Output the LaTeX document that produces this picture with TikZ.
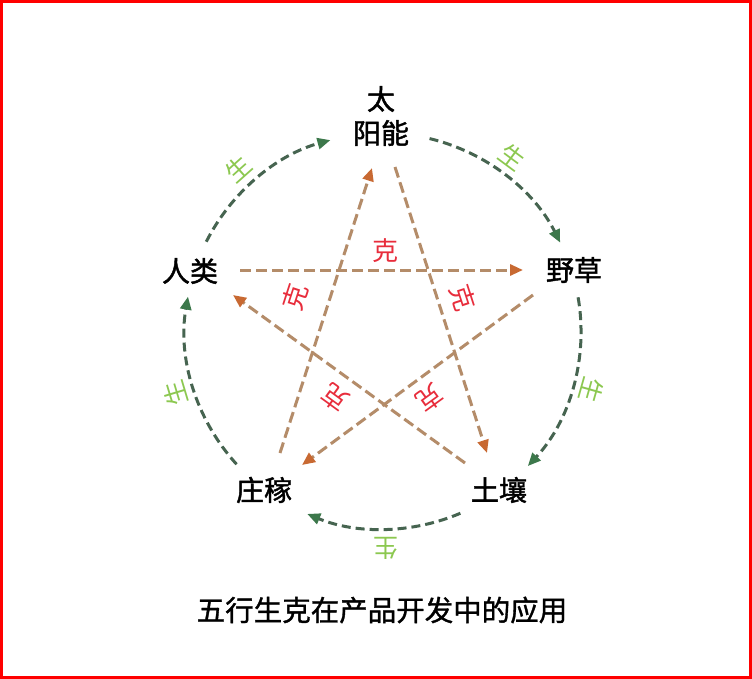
\documentclass[tikz,border=0pt]{standalone}
\usepackage{fontspec}
\newfontfamily\cjk{Noto Sans CJK SC}
\newfontfamily\cjkb[FakeBold=1.6]{Noto Sans CJK SC}
\newfontfamily\cjkt[FakeBold=1.2]{Noto Sans CJK SC}
\usetikzlibrary{arrows.meta}
\definecolor{kered}{RGB}{232,45,60}
\definecolor{shenggreen}{RGB}{140,200,80}
\definecolor{arcgreen}{RGB}{70,100,80}
\definecolor{arctip}{RGB}{60,120,75}
\definecolor{starline}{RGB}{180,140,105}
\definecolor{startip}{RGB}{200,105,50}
\tikzset{
  lbl/.style={font=\cjkb\fontsize{28}{34}\selectfont, text=black, inner sep=0pt, align=center},
  kelbl/.style={font=\cjk\fontsize{26}{26}\selectfont, text=kered, inner sep=0pt},
  shenglbl/.style={font=\cjk\fontsize{25}{25}\selectfont, text=shenggreen, inner sep=0pt},
  keline/.style={draw=starline, line width=3pt, dash pattern=on 11pt off 5pt,
    -{Triangle[length=13pt,width=11pt,fill=startip,color=startip]}},
  shengarc/.style={draw=arcgreen, line width=3pt, dash pattern=on 9pt off 5pt,
    -{Triangle[length=13pt,width=11pt,fill=arctip,color=arctip]}},
}
\begin{document}
\begin{tikzpicture}[x=1pt,y=1pt]
\useasboundingbox (0,0) rectangle (752,-679);
\fill[white] (0,0) rectangle (752,-679);
\draw[red, line width=3pt] (1.5,-1.5) rectangle (750.5,-677.5);

\coordinate (O) at (383,-331);

% main nodes
\node[lbl] (sun) at (381,-116) {太\\阳能};
\node[lbl] (hum) at (190,-271) {人类};
\node[lbl] (grass) at (574,-270) {野草};
\node[lbl] (crop) at (264,-490) {庄稼};
\node[lbl] (soil) at (499,-490) {土壤};

% 克 lines (star)
\draw[keline] ([shift={(50,1)}]hum.center) -- ([shift={(-51,0)}]grass.center);
\draw[keline] ([shift={(16,37)}]crop.center) -- ([shift={(-9,-52)}]sun.center);
\draw[keline] ([shift={(14,-51)}]sun.center) -- ([shift={(-12,37)}]soil.center);
\draw[keline] ([shift={(-41,-25)}]grass.center) -- ([shift={(38,25)}]crop.center);
\draw[keline] ([shift={(-34,27)}]soil.center) -- ([shift={(43,-24)}]hum.center);

% 生 arcs (circle)
\draw[shengarc] ([shift={(153.2:198)}]O) arc[start angle=153.2, end angle=105.4, radius=198];
\draw[shengarc] ([shift={(76.4:198)}]O) arc[start angle=76.4, end angle=26.5, radius=198];
\draw[shengarc] ([shift={(9.8:198)}]O) arc[start angle=9.8, end angle=-43, radius=198];
\draw[shengarc] ([shift={(-67:198)}]O) arc[start angle=-67, end angle=-112.5, radius=198];
\draw[shengarc] ([shift={(222.3:198)}]O) arc[start angle=222.3, end angle=170, radius=198];

% 生 labels
\node[shenglbl, rotate=41.8] (s1) at ([shift={(131.8:217)}]O) {生};
\node[shenglbl, rotate=-36.6] (s2) at ([shift={(53.4:217)}]O) {生};
\node[shenglbl, rotate=-105.8] (s3) at ([shift={(-15.8:217)}]O) {生};
\node[shenglbl, rotate=180] (s4) at ([shift={(-89.3:217)}]O) {生};
\node[shenglbl, rotate=106.7] (s5) at ([shift={(196.7:217)}]O) {生};

% 克 labels
\node[kelbl] (k1) at (385,-251) {克};
\node[kelbl, rotate=-72] (k2) at (463,-298) {克};
\node[kelbl, rotate=-144] (k3) at (430,-398) {克};
\node[kelbl, rotate=144] (k4) at (335,-398) {克};
\node[kelbl, rotate=72] (k5) at (295,-297) {克};

% title
\node[font=\cjkt\fontsize{28.5}{28.5}\selectfont, inner sep=0pt] (title) at (382,-610) {五行生克在产品开发中的应用};
\end{tikzpicture}
\end{document}
